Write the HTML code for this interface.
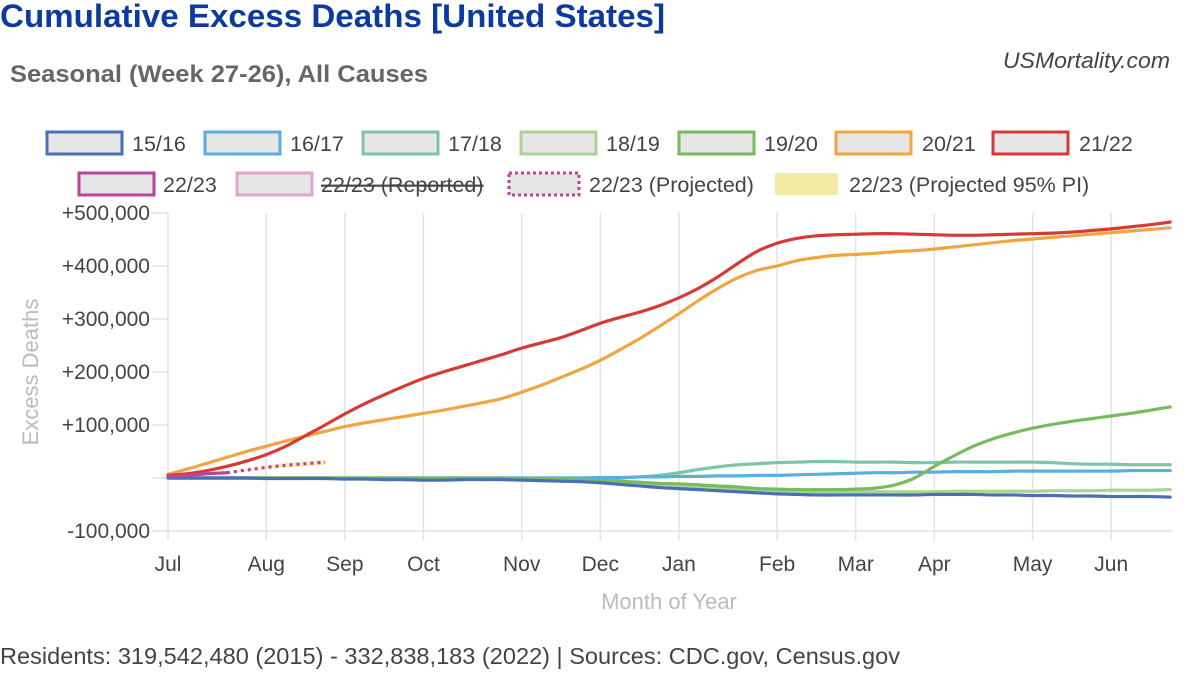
<!DOCTYPE html>
<html><head><meta charset="utf-8">
<style>
body{margin:0;background:#fff;width:1200px;height:670px;overflow:hidden;font-family:"Liberation Sans",Arial,sans-serif;}
</style></head>
<body>
<svg id="chart" width="1200" height="670" xmlns="http://www.w3.org/2000/svg" font-family="Liberation Sans, Arial, sans-serif">
<text x="0" y="27" font-size="32" font-weight="bold" fill="#0d3a9e" textLength="665" lengthAdjust="spacingAndGlyphs">Cumulative Excess Deaths [United States]</text>
<text x="10" y="82" font-size="24" font-weight="bold" fill="#666" textLength="418" lengthAdjust="spacingAndGlyphs">Seasonal (Week 27-26), All Causes</text>
<text x="1170" y="68" font-size="22" font-style="italic" fill="#444" text-anchor="end" textLength="167" lengthAdjust="spacingAndGlyphs">USMortality.com</text>
<g id="legend"></g>
<g id="grid"></g>
<g id="plot"></g>
<text transform="translate(38,372) rotate(-90)" font-size="22" fill="#bbb" text-anchor="middle">Excess Deaths</text>
<text x="669" y="609" font-size="22" fill="#bbb" text-anchor="middle">Month of Year</text>
<text x="0" y="664" font-size="23" fill="#444" textLength="900" lengthAdjust="spacingAndGlyphs">Residents: 319,542,480 (2015) - 332,838,183 (2022) | Sources: CDC.gov, Census.gov</text>
</svg>
<script>
const monthLabels=["Jul","Aug","Sep","Oct","Nov","Dec","Jan","Feb","Mar","Apr","May","Jun"];
const monthWeeks=[0,5,9,13,18,22,26,31,35,39,44,48];
const yTicks=[-100000,0,100000,200000,300000,400000,500000];
const yTickLabels=["-100,000","","+100,000","+200,000","+300,000","+400,000","+500,000"];
const s1516=[0,0,0,0,0,-1,-1,-1,-1,-2,-2,-3,-3,-4,-4,-3,-3,-3,-4,-5,-6,-7,-9,-12,-15,-18,-20,-22,-24,-26,-28,-30,-31,-32,-32,-32,-32,-32,-32,-31,-31,-31,-32,-32,-33,-33,-34,-34,-35,-35,-35,-36];
const s1617=[0,0,0,0,0,0,0,0,0,0,0,0,0,0,0,0,0,0,0,0,0,0,1,1,2,2,3,3,4,4,5,5,6,7,8,9,10,10,11,11,12,12,12,13,13,13,13,13,13,14,14,14];
const s1718=[0,0,0,0,0,0,0,0,0,0,0,0,0,0,0,0,0,0,0,0,0,0,0,0,2,5,10,16,21,25,27,29,30,31,31,30,30,30,29,29,30,30,30,30,30,29,27,26,26,25,25,25];
const s1819=[0,0,0,0,0,0,0,0,0,0,0,0,0,0,0,0,0,0,-1,-2,-3,-4,-6,-8,-10,-12,-14,-17,-20,-22,-24,-25,-26,-26,-26,-26,-26,-26,-26,-26,-25,-25,-25,-25,-25,-24,-24,-24,-23,-23,-23,-22];
const s1920=[0,0,0,0,0,0,0,0,0,0,0,0,0,0,0,0,0,0,-1,-2,-3,-4,-5,-6,-8,-10,-11,-13,-15,-17,-20,-21,-22,-22,-22,-21,-19,-13,0,22,42,60,74,85,94,101,107,112,117,122,128,134];
const s2021=[7,17,28,39,50,60,70,79,88,97,104,110,116,122,128,135,142,150,162,175,190,205,222,242,263,286,310,335,358,378,392,400,410,416,420,422,424,427,429,432,436,440,444,448,451,454,457,460,463,466,469,472];
const s2122=[5,8,14,22,32,44,60,80,100,121,140,157,173,188,200,211,222,233,245,255,265,278,292,303,313,325,340,358,380,405,428,443,452,457,459,460,461,461,460,459,458,458,459,460,461,462,464,467,470,474,478,483];
const s2223=[3,5,8,10];
const s2223proj=[10,15,20,24,27,30];
const s2223lo=[10,13,17,20,22,25];
const s2223hi=[10,17,23,28,31,34];
const NS="http://www.w3.org/2000/svg";
const X0=168,WK=19.65,Y0=478,YK=0.53/1000;
const xs=w=>X0+w*WK, ys=v=>Y0-v*YK;
function el(t,a,p){const e=document.createElementNS(NS,t);for(const k in a)e.setAttribute(k,a[k]);p.appendChild(e);return e;}
function smooth(pts){let d=`M${pts[0][0]},${pts[0][1]}`;for(let i=0;i<pts.length-1;i++){const p0=pts[i-1]||pts[i],p1=pts[i],p2=pts[i+1],p3=pts[i+2]||p2;d+=` C${p1[0]+(p2[0]-p0[0])/6},${p1[1]+(p2[1]-p0[1])/6} ${p2[0]-(p3[0]-p1[0])/6},${p2[1]-(p3[1]-p1[1])/6} ${p2[0]},${p2[1]}`;}return d;}
const grid=document.getElementById('grid'),plot=document.getElementById('plot');
monthWeeks.forEach((w,i)=>{
 const l=el('line',{x1:xs(w),x2:xs(w),y1:213,y2:540,stroke:'#e3e3e3','stroke-width':1.5},grid);
 
 
 const t=el('text',{x:xs(w),y:571,'font-size':21,fill:'#444','text-anchor':'middle'},grid);t.textContent=monthLabels[i];
 
 
});
el('line',{x1:152,x2:1172,y1:ys(-100000),y2:ys(-100000),stroke:'#e3e3e3','stroke-width':1.5},grid);
yTicks.forEach((v,i)=>{
 const l=el('line',{x1:152,x2:168,y1:ys(v),y2:ys(v),stroke:'#e3e3e3','stroke-width':1.5},grid);
 
 
 const t=el('text',{x:150,y:ys(v)+7,'font-size':21,fill:'#444','text-anchor':'end'},grid);t.textContent=yTickLabels[i];
 
 
});
function series(arr,color,name,start=0,dash){
 const pts=arr.map((v,i)=>[xs(i+start),ys(v*1000)]);
 const p=el('path',{d:smooth(pts),fill:'none',stroke:color,'stroke-width':3.2,'stroke-linecap':'round'},plot);
 if(dash){p.setAttribute('stroke-dasharray','3 4');p.setAttribute('stroke-linecap','butt');}
 
 
}
{const up=s2223hi.map((v,i)=>[xs(i+3),ys(v*1000)]),lo=s2223lo.map((v,i)=>[xs(i+3),ys(v*1000)]).reverse();
 const p=el('path',{d:'M'+up.concat(lo).map(p=>p.join(',')).join(' L')+'Z',fill:'#f2e9a3',opacity:0.8},plot);
 
 }
series(s1718,'#7ec4a8','line-17-18');
series(s1617,'#5aafe0','line-16-17');
series(s1819,'#a8d595','line-18-19');
series(s1920,'#77bb5c','line-19-20');
series(s1516,'#4a6fb5','line-15-16');
series(s2021,'#efa640','line-20-21');
series(s2122,'#d63a36','line-21-22');
series(s2223,'#b9459a','line-22-23');
series(s2223proj,'#b9459a','line-22-23-projected',3,true);
const legend=document.getElementById('legend');
const items=[[47,132,'#4a6fb5','15/16',0],[205,290,'#5aafe0','16/17',0],[363,448,'#7ec4a8','17/18',0],[521,606,'#a8d595','18/19',0],[679,764,'#77bb5c','19/20',0],[836,922,'#efa640','20/21',0],[993,1079,'#d63a36','21/22',0],
[79,163,'#b9459a','22/23',1],[237,321,'#e3a3cb','22/23 (Reported)',1],[509,589,'#b9459a','22/23 (Projected)',1],[775,849,'#f2e9a3','22/23 (Projected 95% PI)',1]];
items.forEach((it,i)=>{
 const y=it[4]?173:132;
 const g=el('g',{},legend);
 
 
 const bw=i==10?63:(i==9?70:75);
 const r=el('rect',{x:it[0],y:y,width:bw,height:22,fill:i==10?'#f2e9a3':'#e6e6e6',stroke:it[2],'stroke-width':i==10?0:3},g);
 if(i==9)r.setAttribute('stroke-dasharray','3 3');
 const t=el('text',{x:it[1],y:y+19,'font-size':21.5,fill:'#444'},g);t.textContent=it[3];
 if(i==8)t.setAttribute('text-decoration','line-through');
});
</script>
</body></html>
